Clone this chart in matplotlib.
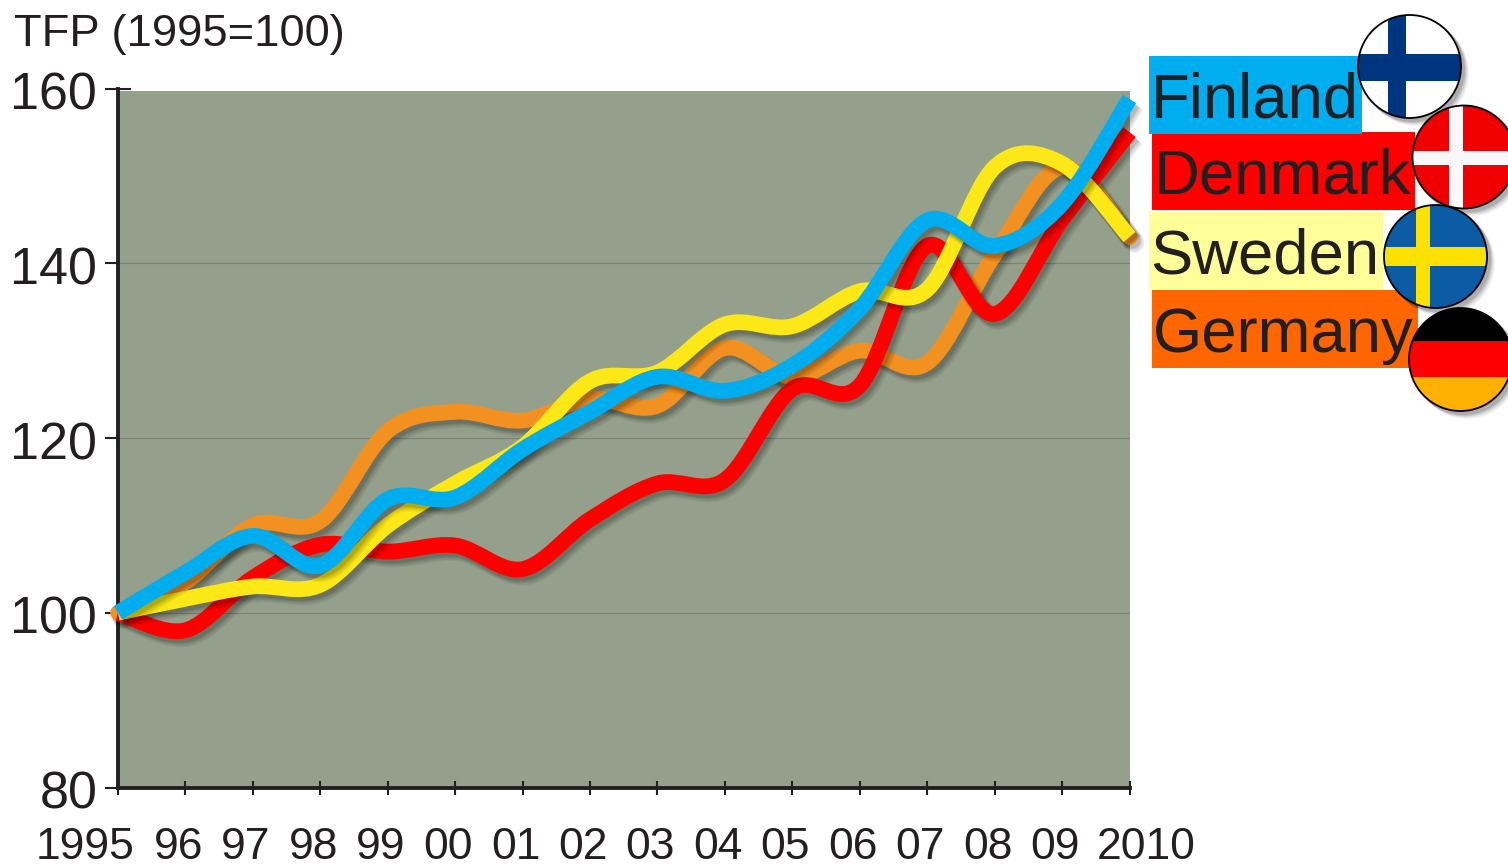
import matplotlib
matplotlib.use("Agg")
import matplotlib.pyplot as plt
import matplotlib.patheffects as pe
from matplotlib.path import Path
from matplotlib.patches import PathPatch, Circle, Rectangle
from matplotlib.transforms import ScaledTranslation
import numpy as np

plt.rcParams['font.family'] = ['Liberation Sans', 'DejaVu Sans']

years = list(range(1995, 2011))
tick_labels = ['1995', '96', '97', '98', '99', '00', '01', '02', '03', '04', '05', '06', '07', '08', '09', '2010']
finland = [100, 104.6, 108.8, 105.4, 113.0, 113.2, 118.7, 123, 127, 125.4, 128.3, 134.8, 144.9, 142, 146.8, 158.8]
denmark = [100, 98, 104, 107.8, 107, 107.7, 105, 110.7, 114.8, 115.2, 125.6, 126, 142, 134.2, 145, 155]
sweden = [100, 101.6, 103, 103.2, 110, 114.8, 119, 126.5, 127.5, 133, 132.8, 136.8, 137.0, 151, 151.4, 143]
germany = [100, 103.5, 110, 110.5, 120.8, 123, 122, 124.5, 123.7, 130.3, 127, 130, 128.6, 141, 151, 143]

INK = '#231f20'
W, H = 1508, 865
fig = plt.figure(figsize=(W / 100, H / 100), dpi=100, facecolor='white')
L, R, T, B = 118, 1129.5, 88.5, 787.5
ax = fig.add_axes([L / W, 1 - B / H, (R - L) / W, (B - T) / H], facecolor='white')
ax.set_xlim(1995, 2010)
ax.set_ylim(80, 160)
ax.axhspan(80, 159.7, color='#95a08c', lw=0, zorder=0)
for v in (100, 120, 140):
    ax.axhline(v, color='#7b8375', lw=0.9, zorder=1)


def smooth(xs, ys, k=1 / 6):
    xs, ys = np.asarray(xs, float), np.asarray(ys, float)
    verts = [(xs[0], ys[0])]
    codes = [Path.MOVETO]
    n = len(xs)
    for i in range(n - 1):
        a, d = max(i - 1, 0), min(i + 2, n - 1)
        verts += [(xs[i] + (xs[i + 1] - xs[a]) * k, ys[i] + (ys[i + 1] - ys[a]) * k),
                  (xs[i + 1] - (xs[d] - xs[i]) * k, ys[i + 1] - (ys[d] - ys[i]) * k),
                  (xs[i + 1], ys[i + 1])]
        codes += [Path.CURVE4] * 3
    return Path(verts, codes)


shadow = [pe.SimpleLineShadow(offset=(2 + d, -2.5 - d), shadow_color='black', alpha=0.05, linewidth=w)
          for d, w in ((1.5, 15), (1.2, 14), (0.8, 13), (0.4, 12.5), (0, 12), (0, 11.5))] + [pe.Normal()]

for vals, col, cap in ((germany, '#f29020', 'round'), (denmark, '#ff0000', 'butt'),
                       (sweden, '#fbe816', 'butt'), (finland, '#00aeef', 'butt')):
    p = PathPatch(smooth(years, vals), facecolor='none', edgecolor=col, lw=11.3,
                  capstyle=cap, joinstyle='round', clip_on=False, zorder=3, path_effects=shadow)
    ax.add_patch(p)

for s in ('top', 'right'):
    ax.spines[s].set_visible(False)
for s in ('left', 'bottom'):
    ax.spines[s].set_linewidth(2.8)
    ax.spines[s].set_color(INK)
    ax.spines[s].set_zorder(2.5)

ax.set_yticks([80, 100, 120, 140, 160])
ax.tick_params(axis='y', direction='out', length=9.5, width=1.5, color=INK, labelsize=37.5, labelcolor=INK, pad=5.5)
for lab in ax.get_yticklabels():
    lab.set_transform(lab.get_transform() + ScaledTranslation(0, -2 / 100, fig.dpi_scale_trans))
ax.set_xticks(years)
ax.set_xticklabels(tick_labels)
ax.tick_params(axis='x', direction='inout', length=10, width=1.5, color=INK, labelsize=32, labelcolor=INK, pad=38.5)
offs = [-33] + [-7] * 14 + [17]
for lab, o in zip(ax.get_xticklabels(), offs):
    lab.set_transform(lab.get_transform() + ScaledTranslation(o / 100, 0, fig.dpi_scale_trans))
    lab.set_verticalalignment('center')

# pixel-space overlay for the title, legend and flags
ov = fig.add_axes([0, 0, 1, 1])
ov.set_xlim(0, W)
ov.set_ylim(H, 0)
ov.axis('off')
ov.patch.set_visible(False)
ov.plot([118, 130], [88.5, 88.5], color=INK, lw=1.5)
ov.text(14, 46, 'TFP (1995=100)', fontsize=32.7, color=INK, va='baseline', ha='left')

boxes = [(1152, 132, 263, 78, '#ff0000', 1154, 193), (1149, 56, 213, 78, '#00aeef', 1151, 117),
         (1149, 211, 234, 78, '#ffff99', 1150, 273), (1152, 290, 266, 78, '#ff6600', 1153, 352)]
names = ['Denmark', 'Finland', 'Sweden', 'Germany']
for (x, y, w, h, c, tx, ty), nm in zip(boxes, names):
    ov.add_patch(Rectangle((x, y), w, h, fc=c, ec='none', zorder=2))
    ov.text(tx, ty, nm, fontsize=45.6, color=INK, va='baseline', ha='left', zorder=2.5)


def flag(cx, cy, parts, bg):
    r = 51.5
    for d, g, a in ((7, 7, .04), (6, 6, .05), (5, 5, .07), (4, 4, .09), (3, 3, .11)):
        ov.add_patch(Circle((cx + d, cy + g), r + 1, fc='black', ec='none', alpha=a, zorder=3))
    clip = Circle((cx, cy), r, transform=ov.transData)
    base = Rectangle((cx - r, cy - r), 2 * r, 2 * r, fc=bg, ec='none', zorder=3.1)
    ov.add_patch(base)
    base.set_clip_path(clip)
    for (x0, y0, x1, y1, c) in parts:
        q = Rectangle((x0, y0), x1 - x0, y1 - y0, fc=c, ec='none', zorder=3.2)
        ov.add_patch(q)
        q.set_clip_path(clip)
    ov.add_patch(Circle((cx, cy), r, fc='none', ec='black', lw=1.3, zorder=3.3))


flag(1409.5, 66.5, [(1388, 15, 1406, 118, '#003580'), (1358, 54, 1461, 81, '#003580')], 'white')
flag(1464, 157, [(1449, 105, 1463, 208, '#f8f8fa'), (1413, 151, 1515, 165, '#f8f8fa')], '#f00000')
flag(1435.5, 256.5, [(1416, 205, 1430, 308, '#fbe000'), (1384, 247, 1487, 266, '#fbe000')], '#0b5ca5')
flag(1460.5, 359.5, [(1409, 308, 1512, 341, 'black'), (1409, 341, 1512, 377, '#ff0000')], '#ffb000')

fig.savefig('out.png', dpi=100)
